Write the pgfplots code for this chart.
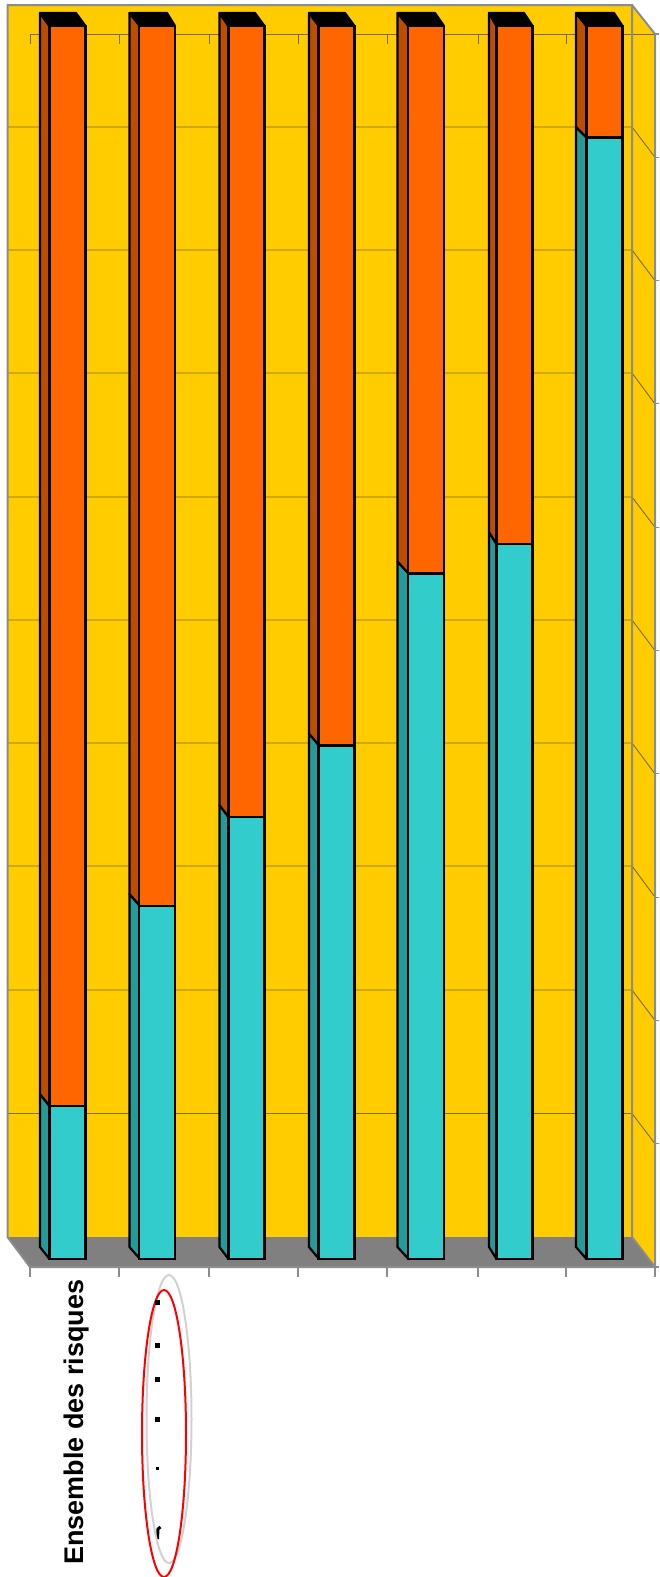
\documentclass[border=0pt]{standalone}
\usepackage{pgfplots}
\usepackage{fontspec}
\setmainfont{Liberation Sans}
\pgfplotsset{compat=1.18}
\definecolor{wall}{HTML}{FFCC00}
\definecolor{floorc}{HTML}{808080}
\definecolor{edge}{HTML}{8C8C8C}
\definecolor{gridc}{HTML}{7A6A10}
\definecolor{cyanf}{HTML}{33CCCC}
\definecolor{cyans}{HTML}{269999}
\definecolor{orangef}{HTML}{FF6600}
\definecolor{oranges}{HTML}{BF4D00}
\begin{document}
\begin{tikzpicture}[x=1pt,y=1pt]
\path[use as bounding box] (0,0) rectangle (659,1577);
% scene in the picture's own coordinates
\begin{axis}[at={(0,0)},anchor=south west,width=659pt,height=1577pt,scale only axis,
  xmin=0,xmax=659,ymin=0,ymax=1577,y dir=reverse,hide axis,clip=true]
% walls and floor
\addplot[fill=wall,draw=none] coordinates {(7.5,5)(632,5)(632,1237)(7.5,1237)} -- cycle;
\addplot[fill=wall,draw=none] coordinates {(632,5)(655,34)(655,1267)(632,1237)} -- cycle;
\addplot[fill=floorc,draw=none] coordinates {(7.5,1237)(632,1237)(655,1267)(30,1267)} -- cycle;
% grid
\addplot[gridc,line width=0.9pt] coordinates {(30,44)(30,34)(655,34)};
\addplot[gridc,line width=0.9pt] coordinates {(119,34)(119,44)};
\addplot[gridc,line width=0.9pt] coordinates {(209,34)(209,44)};
\addplot[gridc,line width=0.9pt] coordinates {(298,34)(298,44)};
\addplot[gridc,line width=0.9pt] coordinates {(387,34)(387,44)};
\addplot[gridc,line width=0.9pt] coordinates {(478,34)(478,44)};
\addplot[gridc,line width=0.9pt] coordinates {(566,34)(566,44)};
\addplot[gridc,line width=0.9pt] coordinates {(7.5,127)(632,127)(655,157.3)};
\addplot[gridc,line width=0.9pt] coordinates {(7.5,250)(632,250)(655,280.6)};
\addplot[gridc,line width=0.9pt] coordinates {(7.5,373)(632,373)(655,403.9)};
\addplot[gridc,line width=0.9pt] coordinates {(7.5,497)(632,497)(655,527.2)};
\addplot[gridc,line width=0.9pt] coordinates {(7.5,620)(632,620)(655,650.5)};
\addplot[gridc,line width=0.9pt] coordinates {(7.5,743)(632,743)(655,773.8)};
\addplot[gridc,line width=0.9pt] coordinates {(7.5,866)(632,866)(655,897.1)};
\addplot[gridc,line width=0.9pt] coordinates {(7.5,990)(632,990)(655,1020.4)};
\addplot[gridc,line width=0.9pt] coordinates {(7.5,1113.5)(632,1113.5)(655,1143.7)};
% borders and outer ticks
\addplot[edge,line width=2pt] coordinates {(30,1267)(7.5,1237)(7.5,5)(632,5)(632,1237)(655,1267)};
\addplot[edge,line width=2pt] coordinates {(632,5)(655,34)(655,1267)(30,1267)};
\addplot[edge,line width=1.1pt] coordinates {(655,34)(659,34)};
\addplot[edge,line width=1.1pt] coordinates {(655,157.3)(659,157.3)};
\addplot[edge,line width=1.1pt] coordinates {(655,280.6)(659,280.6)};
\addplot[edge,line width=1.1pt] coordinates {(655,403.9)(659,403.9)};
\addplot[edge,line width=1.1pt] coordinates {(655,527.2)(659,527.2)};
\addplot[edge,line width=1.1pt] coordinates {(655,650.5)(659,650.5)};
\addplot[edge,line width=1.1pt] coordinates {(655,773.8)(659,773.8)};
\addplot[edge,line width=1.1pt] coordinates {(655,897.1)(659,897.1)};
\addplot[edge,line width=1.1pt] coordinates {(655,1020.4)(659,1020.4)};
\addplot[edge,line width=1.1pt] coordinates {(655,1143.7)(659,1143.7)};
\addplot[edge,line width=1.1pt] coordinates {(655,1267)(659,1267)};
\addplot[edge,line width=1.1pt] coordinates {(30,1267)(30,1277)};
\addplot[edge,line width=1.1pt] coordinates {(119,1267)(119,1277)};
\addplot[edge,line width=1.1pt] coordinates {(209,1267)(209,1277)};
\addplot[edge,line width=1.1pt] coordinates {(298,1267)(298,1277)};
\addplot[edge,line width=1.1pt] coordinates {(387,1267)(387,1277)};
\addplot[edge,line width=1.1pt] coordinates {(478,1267)(478,1277)};
\addplot[edge,line width=1.1pt] coordinates {(566,1267)(566,1277)};
\addplot[edge,line width=1.1pt] coordinates {(655,1267)(655,1277)};
% side and top faces of the bars
\addplot[fill=cyans,draw=black,line width=2.2pt,line join=round] coordinates {(40,1247)(49.5,1259)(49.5,1106)(40,1094)} -- cycle;
\addplot[fill=oranges,draw=black,line width=2.2pt,line join=round] coordinates {(40,1094)(49.5,1106)(49.5,26)(40,13)} -- cycle;
\addplot[fill=black,draw=black,line width=2.2pt,line join=round] coordinates {(40,13)(76,13)(85.5,26)(49.5,26)} -- cycle;
\addplot[fill=cyans,draw=black,line width=2.2pt,line join=round] coordinates {(129.5,1247)(140,1259)(140,906)(129.5,894)} -- cycle;
\addplot[fill=oranges,draw=black,line width=2.2pt,line join=round] coordinates {(129.5,894)(140,906)(140,26)(129.5,13)} -- cycle;
\addplot[fill=black,draw=black,line width=2.2pt,line join=round] coordinates {(129.5,13)(167,13)(175,26)(140,26)} -- cycle;
\addplot[fill=cyans,draw=black,line width=2.2pt,line join=round] coordinates {(219.5,1247)(228.5,1259)(228.5,817)(219.5,805)} -- cycle;
\addplot[fill=oranges,draw=black,line width=2.2pt,line join=round] coordinates {(219.5,805)(228.5,817)(228.5,26)(219.5,13)} -- cycle;
\addplot[fill=black,draw=black,line width=2.2pt,line join=round] coordinates {(219.5,13)(255,13)(264.5,26)(228.5,26)} -- cycle;
\addplot[fill=cyans,draw=black,line width=2.2pt,line join=round] coordinates {(309,1247)(319,1259)(319,745.5)(309,733.5)} -- cycle;
\addplot[fill=oranges,draw=black,line width=2.2pt,line join=round] coordinates {(309,733.5)(319,745.5)(319,26)(309,13)} -- cycle;
\addplot[fill=black,draw=black,line width=2.2pt,line join=round] coordinates {(309,13)(345,13)(354.5,26)(319,26)} -- cycle;
\addplot[fill=cyans,draw=black,line width=2.2pt,line join=round] coordinates {(397.5,1247)(408.5,1259)(408.5,573.5)(397.5,561.5)} -- cycle;
\addplot[fill=oranges,draw=black,line width=2.2pt,line join=round] coordinates {(397.5,561.5)(408.5,573.5)(408.5,26)(397.5,13)} -- cycle;
\addplot[fill=black,draw=black,line width=2.2pt,line join=round] coordinates {(397.5,13)(435,13)(444,26)(408.5,26)} -- cycle;
\addplot[fill=cyans,draw=black,line width=2.2pt,line join=round] coordinates {(489,1247)(496.5,1259)(496.5,544)(489,532)} -- cycle;
\addplot[fill=oranges,draw=black,line width=2.2pt,line join=round] coordinates {(489,532)(496.5,544)(496.5,26)(489,13)} -- cycle;
\addplot[fill=black,draw=black,line width=2.2pt,line join=round] coordinates {(489,13)(524,13)(532.5,26)(496.5,26)} -- cycle;
\addplot[fill=cyans,draw=black,line width=2.2pt,line join=round] coordinates {(576,1247)(586.5,1259)(586.5,137.5)(576,127)} -- cycle;
\addplot[fill=oranges,draw=black,line width=2.2pt,line join=round] coordinates {(576,127)(586.5,137.5)(586.5,26)(576,13)} -- cycle;
\addplot[fill=black,draw=black,line width=2.2pt,line join=round] coordinates {(576,13)(614,13)(622.5,26)(586.5,26)} -- cycle;
% category label and the clipped labels
\node[rotate=90,anchor=base west,inner sep=0pt,font=\fontsize{27}{30}\bfseries\selectfont] at (axis cs:83.8,1565) {Ensemble des risques};
\addplot[only marks,mark=square*,mark size=1.7pt,black,mark options={draw=none}] coordinates {(157,1302)(157,1345)(157,1379)(157,1419)};
\addplot[only marks,mark=square*,mark size=1.1pt,black,mark options={draw=none}] coordinates {(157,1468)};
\addplot[black,line width=3pt] coordinates {(160.5,1527)(158,1529)(157.5,1539)};
\draw[black!18,line width=2pt] (axis cs:169,1419) ellipse [x radius=22.5, y radius=144];
\draw[red,line width=2pt] (axis cs:164,1433.5) ellipse [x radius=22, y radius=143.5];
\end{axis}
% front faces: stacked share, in per cent
\begin{axis}[at={(0,0)},anchor=south west,width=659pt,height=1577pt,scale only axis,
  xmin=0,xmax=659,ymin=-25.79,ymax=102.11,hide axis,ybar stacked,bar width=36pt,clip=true]
\addplot[fill=cyanf,draw=black,line width=2.2pt] coordinates {(67.5,12.41)(157.25,28.63)(246.5,35.85)(336.5,41.65)(426,55.60)(514.5,57.99)(604.5,90.96)};
\addplot[fill=orangef,draw=black,line width=2.2pt] coordinates {(67.5,87.59)(157.25,71.37)(246.5,64.15)(336.5,58.35)(426,44.40)(514.5,42.01)(604.5,9.04)};
\end{axis}
\end{tikzpicture}
\end{document}
